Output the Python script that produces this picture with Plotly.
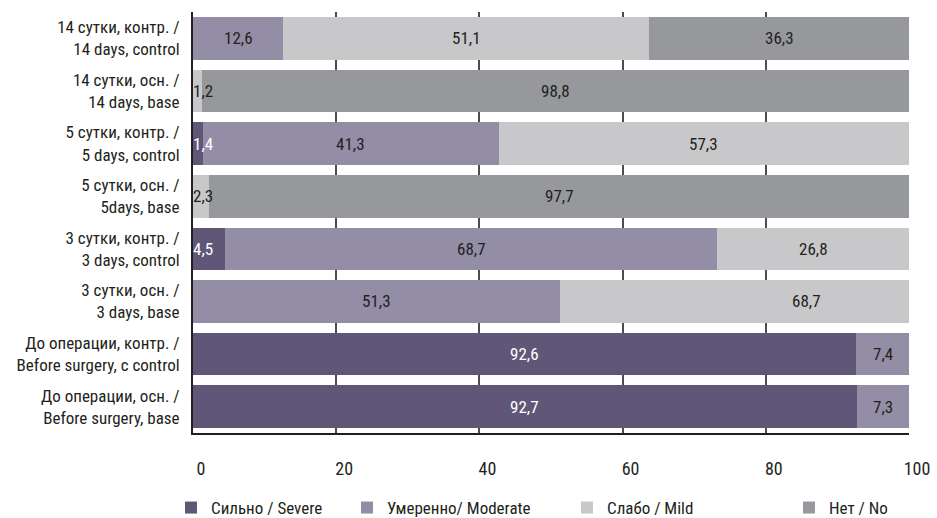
import plotly.graph_objects as go

categories = [
    "14 сутки, контр. /<br>14 days, control",
    "14 сутки, осн. /<br>14 days, base",
    "5 сутки, контр. /<br>5 days, control",
    "5 сутки, осн. /<br>5days, base",
    "3 сутки, контр. /<br>3 days, control",
    "3 сутки, осн. /<br>3 days, base",
    "До операции, контр. /<br>Before surgery, c control",
    "До операции, осн. /<br>Before surgery, base",
]
severe = [0, 0, 1.4, 0, 4.5, 0, 92.6, 92.7]
moderate = [12.6, 0, 41.3, 0, 68.7, 51.3, 7.4, 7.3]
mild = [51.1, 1.2, 57.3, 2.3, 26.8, 68.7, 0, 0]
no = [36.3, 98.8, 0, 97.7, 0, 0, 0, 0]
series_names = ["Сильно / Severe", "Умеренно/ Moderate", "Слабо / Mild", "Нет / No"]
x_ticks = [0, 20, 40, 60, 80, 100]

colors = ["#5f5678", "#948da6", "#c8c8ca", "#97989b"]
text_colors = ["#ffffff", "#231f20", "#231f20", "#231f20"]
legend_x = [171, 347, 567, 789]  # container px for each legend entry
FONT = "Roboto Condensed, Liberation Sans Narrow, DejaVu Sans Condensed, sans-serif"

fig = go.Figure()
series = [severe, moderate, mild, no]
legend_ids = ["legend", "legend2", "legend3", "legend4"]
for name, vals, col, lid in zip(series_names, series, colors, legend_ids):
    fig.add_trace(go.Bar(
        y=categories, x=vals, name=name, orientation="h",
        marker=dict(color=col, line=dict(width=0)),
        hoverinfo="skip", legend=lid,
    ))

annotations = []
for i, cat in enumerate(categories):
    base = 0.0
    for vals, tcol in zip(series, text_colors):
        v = vals[i]
        if v > 0:
            label = f"{v:.1f}".replace(".", ",")
            if v < 5:
                annotations.append(dict(x=base, y=cat, xref="x", yref="y", text=label,
                                        showarrow=False, xanchor="left", xshift=-2,
                                        font=dict(family=FONT, size=17, color=tcol)))
            else:
                annotations.append(dict(x=base + v / 2, y=cat, xref="x", yref="y", text=label,
                                        showarrow=False, xanchor="center",
                                        font=dict(family=FONT, size=17, color=tcol)))
        base += v

legend_common = dict(orientation="h", xref="container", yref="container",
                     y=(518 - 508) / 518, xanchor="left", yanchor="middle",
                     font=dict(family=FONT, size=17, color="#231f20"),
                     itemclick=False, itemdoubleclick=False, bgcolor="rgba(0,0,0,0)")

layout_legends = {}
for lid, lx in zip(legend_ids, legend_x):
    layout_legends[lid] = dict(legend_common, x=lx / 937)

fig.update_layout(
    barmode="stack",
    bargap=0.19,
    width=937, height=518,
    margin=dict(l=193, r=28, t=12, b=85, autoexpand=False),
    paper_bgcolor="white", plot_bgcolor="white",
    font=dict(family=FONT, size=17, color="#231f20"),
    annotations=annotations,
    showlegend=True,
    xaxis=dict(range=[0, 100], tickvals=x_ticks, ticktext=[str(t) for t in x_ticks],
               showgrid=True, gridcolor="#4d4d4d", gridwidth=1.5,
               showline=True, linecolor="#231f20", linewidth=2, automargin=False,
               ticks="", ticklabelstandoff=18, ticklabelshift=8, zeroline=False,
               tickfont=dict(family=FONT, size=18, color="#231f20"), fixedrange=True),
    yaxis=dict(autorange="reversed", showline=True, linecolor="#231f20", linewidth=2,
               ticks="", ticklabelstandoff=8, showgrid=False, automargin=False,
               tickfont=dict(family=FONT, size=17, color="#231f20"), fixedrange=True),
    **layout_legends,
)

fig.write_html("out.html")
